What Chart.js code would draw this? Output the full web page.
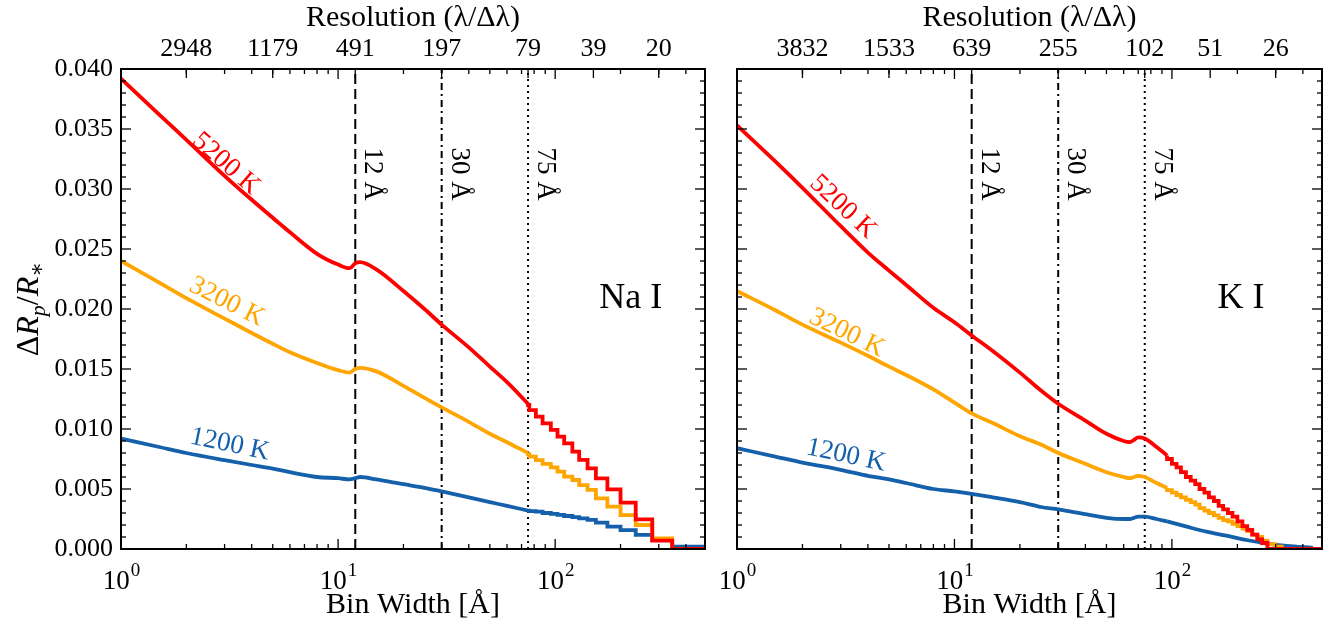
<!DOCTYPE html>
<html>
<head>
<meta charset="utf-8">
<script src="https://cdn.jsdelivr.net/npm/chart.js@4.4.0/dist/chart.umd.min.js"></script>
<style>
html, body { margin: 0; padding: 0; background: #fff; }
#left { position: absolute; left: 0; top: 0; width: 720px; height: 624px; }
#right { position: absolute; left: 720px; top: 0; width: 610px; height: 624px; }
</style>
</head>
<body>
<div id="left"><canvas id="naChart"></canvas></div>
<div id="right"><canvas id="kChart"></canvas></div>
<script>
const FONT = '"Liberation Serif", "DejaVu Serif", serif';
const RED = '#ff0000', ORANGE = '#ffa500', BLUE = '#1560ab';

const xMin = 1, xMax = 490;
const xMajor = [1, 10, 100];
const xMajorExp = ['0', '1', '2'];
const xMinor = [2, 3, 4, 5, 6, 7, 8, 9, 20, 30, 40, 50, 60, 70, 80, 90, 200, 300, 400];
const yMajor = [0, 0.005, 0.01, 0.015, 0.02, 0.025, 0.03, 0.035, 0.04];

// resolution axis on top
const resTicks = [2, 5, 12, 30, 75, 150, 300];
const naResLabels = ['2948', '1179', '491', '197', '79', '39', '20'];
const kResLabels = ['3832', '1533', '639', '255', '102', '51', '26'];

// vertical bin width markers
const binMarks = [12, 30, 75];
const binMarkLabels = ['12 Å', '30 Å', '75 Å'];

// Na I panel
const naX = [1, 1.5, 2, 3, 4, 5, 6, 8, 10, 11.3, 12, 12.6, 15, 20, 25, 30, 40, 50, 60, 75];
const na5200 = [0.0392, 0.0362, 0.0341, 0.0311, 0.0291, 0.0276, 0.0264, 0.0246, 0.0237, 0.0234, 0.0238, 0.0239, 0.0233, 0.0215, 0.0200, 0.0187, 0.0168, 0.0152, 0.0139, 0.0121];
const na3200 = [0.0240, 0.0222, 0.0209, 0.0192, 0.0180, 0.0171, 0.0164, 0.0155, 0.0149, 0.0147, 0.0150, 0.0151, 0.0148, 0.0136, 0.0126, 0.0118, 0.0106, 0.0096, 0.0089, 0.0080];
const na1200 = [0.0092, 0.0085, 0.0080, 0.0074, 0.0070, 0.0067, 0.0064, 0.0060, 0.0059, 0.0058, 0.0059, 0.0060, 0.0058, 0.0054, 0.0051, 0.0048, 0.0043, 0.0039, 0.0036, 0.0032];
const naTailX = [75, 76, 81.5, 87.5, 95.5, 102.5, 110, 120, 129, 141, 154, 174, 200, 235, 280, 346, 468, 490];
const na5200Tail = [0.0121, 0.0120, 0.01158, 0.01103, 0.01047, 0.00992, 0.00936, 0.00881, 0.00811, 0.00742, 0.00672, 0.00589, 0.00497, 0.00386, 0.00247, 0.00069, 0, 0];
const na3200Tail = [0.0080, 0.0079, 0.0077, 0.0074, 0.0071, 0.0068, 0.00644, 0.00603, 0.00575, 0.00533, 0.00492, 0.00422, 0.00353, 0.00283, 0.0020, 0.00089, 0, 0];
const na1200Tail = [0.0032, 0.0032, 0.00316, 0.00311, 0.0030, 0.00292, 0.00284, 0.00275, 0.00265, 0.00256, 0.00242, 0.00219, 0.00186, 0.00158, 0.00117, 0.00075, 0.0002, 0.0002];

// K I panel
const kX = [1, 1.5, 2, 3, 4, 5, 6, 8, 10, 12, 15, 20, 25, 30, 40, 50, 60, 64, 67, 70, 75, 85, 95];
const k5200 = [0.0353, 0.0323, 0.0301, 0.0269, 0.0247, 0.0232, 0.0220, 0.0201, 0.0189, 0.0178, 0.0165, 0.0147, 0.0132, 0.0121, 0.0107, 0.0096, 0.0090, 0.0089, 0.0091, 0.0093, 0.0092, 0.0085, 0.0078];
const k3200 = [0.0215, 0.0199, 0.0187, 0.0172, 0.0161, 0.0152, 0.0145, 0.0133, 0.0122, 0.0113, 0.0105, 0.0094, 0.0087, 0.0080, 0.0071, 0.0064, 0.0060, 0.0059, 0.0060, 0.0061, 0.0060, 0.0055, 0.0051];
const k1200 = [0.0084, 0.0077, 0.0072, 0.0066, 0.0061, 0.0058, 0.0055, 0.0050, 0.0048, 0.0046, 0.0043, 0.0039, 0.0035, 0.0033, 0.0029, 0.0026, 0.0025, 0.0025, 0.0026, 0.0027, 0.0027, 0.0025, 0.0023];
const k5200TailX = [95, 100, 105, 110, 116, 122, 128, 134, 141, 148, 156, 164, 172, 181, 190, 200, 211, 222, 234, 247, 260, 275, 298, 490];
const k5200Tail = [0.0078, 0.0075, 0.0071, 0.0068, 0.0064, 0.0060, 0.0057, 0.0054, 0.0050, 0.0047, 0.0043, 0.0040, 0.0036, 0.0033, 0.0030, 0.0027, 0.0023, 0.0019, 0.0016, 0.0012, 0.0008, 0.0005, 0, 0];
const k3200TailX = [95, 100, 105, 110, 116, 122, 128, 134, 141, 148, 156, 164, 172, 181, 190, 200, 211, 222, 234, 247, 260, 275, 298, 320, 337, 490];
const k3200Tail = [0.0051, 0.0049, 0.0047, 0.0045, 0.0043, 0.0041, 0.0039, 0.0037, 0.0034, 0.0032, 0.0030, 0.0028, 0.0026, 0.0024, 0.0023, 0.0021, 0.0019, 0.0017, 0.0015, 0.0012, 0.0010, 0.0007, 0.0004, 0.0002, 0, 0];
const k1200TailX = [95, 117, 144, 178, 220, 270, 337, 445];
const k1200Tail = [0.0023, 0.00186, 0.00144, 0.00111, 0.00075, 0.00047, 0.00025, 0.0001];

function pts(xs, ys) {
    return xs.map((x, i) => ({x: x, y: ys[i]}));
}

function curve(xs, ys, color, stepped) {
    return {
        data: pts(xs, ys),
        showLine: true,
        borderColor: color,
        borderWidth: 3.8,
        pointRadius: 0,
        fill: false,
        stepped: stepped ? 'after' : false,
        cubicInterpolationMode: stepped ? 'default' : 'monotone'
    };
}

function vline(v, dash) {
    return {
        data: [{x: v, y: 0}, {x: v, y: 0.04}],
        showLine: true,
        borderColor: '#000',
        borderWidth: 2,
        borderDash: dash,
        pointRadius: 0
    };
}

function drawRotated(ctx, text, x, y, deg, font, color) {
    ctx.save();
    ctx.translate(x, y);
    ctx.rotate(deg * Math.PI / 180);
    ctx.font = font;
    ctx.fillStyle = color;
    ctx.textAlign = 'center';
    ctx.textBaseline = 'middle';
    ctx.fillText(text, 0, 0);
    ctx.restore();
}

function drawYTitle(ctx, cx, cy) {
    // Delta R_p / R_*
    let parts = [
        ['Δ', '32px ' + FONT, 0],
        ['R', 'italic 32px ' + FONT, 0],
        ['p', 'italic 22px ' + FONT, 7],
        ['/', '32px ' + FONT, 0],
        ['R', 'italic 32px ' + FONT, 0],
        ['∗', '22px ' + FONT, 6]
    ];
    ctx.save();
    ctx.translate(cx, cy);
    ctx.rotate(-Math.PI / 2);
    ctx.fillStyle = '#000';
    ctx.textAlign = 'left';
    ctx.textBaseline = 'alphabetic';
    let total = 0;
    parts.forEach(p => { ctx.font = p[1]; total += ctx.measureText(p[0]).width; });
    let x = -total / 2;
    parts.forEach(p => {
        ctx.font = p[1];
        ctx.fillText(p[0], x, 10 + p[2]);
        x += ctx.measureText(p[0]).width;
    });
    ctx.restore();
}

// ticks inside the frame, frame, and all in-plot texts
const decor = {
    id: 'decor',
    afterDraw(chart, args, o) {
        const ctx = chart.ctx;
        const a = chart.chartArea;
        const xs = chart.scales.x, ys = chart.scales.y;
        ctx.save();
        ctx.strokeStyle = '#000';
        ctx.lineWidth = 1.3;
        const seg = (x1, y1, x2, y2) => { ctx.beginPath(); ctx.moveTo(x1, y1); ctx.lineTo(x2, y2); ctx.stroke(); };

        xMajor.concat(xMinor).forEach(v => {
            if (v > xMax) return;
            const px = xs.getPixelForValue(v);
            const len = xMajor.includes(v) ? 10 : 5;
            seg(px, a.bottom, px, a.bottom - len);
            seg(px, a.top, px, a.top + len);
        });
        resTicks.forEach(v => {
            const px = xs.getPixelForValue(v);
            seg(px, a.top, px, a.top + 9);
        });
        for (let i = 0; i <= 40; i++) {
            const py = ys.getPixelForValue(i / 1000);
            const len = i % 5 === 0 ? 10 : 5;
            seg(a.left, py, a.left + len, py);
            seg(a.right, py, a.right - len, py);
        }
        ctx.lineWidth = 2;
        ctx.strokeRect(a.left, a.top, a.right - a.left, a.bottom - a.top);

        ctx.fillStyle = '#000';
        // top tick labels (resolution)
        ctx.font = '26px ' + FONT;
        ctx.textAlign = 'center';
        ctx.textBaseline = 'middle';
        resTicks.forEach((v, i) => {
            ctx.fillText(o.resLabels[i], xs.getPixelForValue(v), a.top - 20);
        });

        // bottom tick labels 10^n
        ctx.textBaseline = 'alphabetic';
        xMajor.forEach((v, i) => {
            const px = xs.getPixelForValue(v);
            ctx.font = '27px ' + FONT;
            const w1 = ctx.measureText('10').width;
            ctx.font = '19px ' + FONT;
            const w2 = ctx.measureText(xMajorExp[i]).width;
            const x0 = px - (w1 + w2) / 2;
            ctx.font = '27px ' + FONT;
            ctx.textAlign = 'left';
            ctx.fillText('10', x0, a.bottom + 40);
            ctx.font = '19px ' + FONT;
            ctx.fillText(xMajorExp[i], x0 + w1 + 1, a.bottom + 27);
        });

        // marker labels
        binMarks.forEach((v, i) => {
            const px = xs.getPixelForValue(v);
            drawRotated(ctx, binMarkLabels[i], px + 17, a.top + 105, 90, '27px ' + FONT, '#000');
        });

        // curve labels
        o.curveLabels.forEach(l => {
            drawRotated(ctx, l.text, xs.getPixelForValue(l.x), ys.getPixelForValue(l.y), l.angle, '27px ' + FONT, l.color);
        });

        // panel label
        drawRotated(ctx, o.panel, xs.getPixelForValue(o.panelX), ys.getPixelForValue(o.panelY), 0, '36px ' + FONT, '#000');

        if (o.yTitle) {
            drawYTitle(ctx, 28, (a.top + a.bottom) / 2);
        }
        ctx.restore();
    }
};

function makePanel(canvasId, cfg) {
    return new Chart(document.getElementById(canvasId), {
        type: 'scatter',
        data: {datasets: cfg.datasets},
        options: {
            responsive: true,
            maintainAspectRatio: false,
            animation: false,
            layout: {padding: {left: 0, right: cfg.padRight, top: 0, bottom: 0}},
            plugins: {
                legend: {display: false},
                tooltip: {enabled: false},
                decor: cfg.decor
            },
            scales: {
                x: {
                    type: 'logarithmic', position: 'bottom', min: xMin, max: xMax,
                    grid: {display: false, drawTicks: false}, border: {display: false},
                    ticks: {display: false},
                    afterFit: s => { s.height = 75; },
                    title: {display: true, text: 'Bin Width [Å]', color: '#000',
                        font: {family: FONT, size: 30}, padding: {top: 0, bottom: 1}}
                },
                x2: {
                    type: 'logarithmic', position: 'top', min: xMin, max: xMax,
                    grid: {display: false, drawTicks: false}, border: {display: false},
                    ticks: {display: false},
                    afterFit: s => { s.height = 69; },
                    title: {display: true, text: 'Resolution (λ/Δλ)', color: '#000',
                        font: {family: FONT, size: 30}, padding: {top: 0, bottom: 0}}
                },
                y: {
                    min: 0, max: 0.04,
                    grid: {display: false, drawTicks: false}, border: {display: false},
                    afterBuildTicks: s => { s.ticks = yMajor.map(v => ({value: v})); },
                    ticks: {display: cfg.yLabels, padding: 8, color: '#000',
                        font: {family: FONT, size: 26},
                        callback: v => v.toFixed(3)},
                    afterFit: s => { s.width = cfg.yWidth; }
                }
            }
        },
        plugins: [decor]
    });
}

makePanel('naChart', {
    padRight: 15,
    yWidth: 121,
    yLabels: true,
    datasets: [
        curve(naX, na5200, RED, false),
        curve(naTailX, na5200Tail, RED, true),
        curve(naX, na3200, ORANGE, false),
        curve(naTailX, na3200Tail, ORANGE, true),
        curve(naX, na1200, BLUE, false),
        curve(naTailX, na1200Tail, BLUE, true),
        vline(binMarks[0], [10, 5]),
        vline(binMarks[1], [7, 4, 2, 4]),
        vline(binMarks[2], [2, 4])
    ],
    decor: {
        yTitle: true,
        resLabels: naResLabels,
        panel: 'Na I', panelX: 223, panelY: 0.0209,
        curveLabels: [
            {text: '5200 K', x: 3.04, y: 0.0321, angle: 41, color: RED},
            {text: '3200 K', x: 3.07, y: 0.0206, angle: 27, color: ORANGE},
            {text: '1200 K', x: 3.17, y: 0.0087, angle: 12, color: BLUE}
        ]
    }
});

makePanel('kChart', {
    padRight: 8,
    yWidth: 17,
    yLabels: false,
    datasets: [
        curve(kX, k5200, RED, false),
        curve(k5200TailX, k5200Tail, RED, true),
        curve(kX, k3200, ORANGE, false),
        curve(k3200TailX, k3200Tail, ORANGE, true),
        curve(kX, k1200, BLUE, false),
        curve(k1200TailX, k1200Tail, BLUE, false),
        vline(binMarks[0], [10, 5]),
        vline(binMarks[1], [7, 4, 2, 4]),
        vline(binMarks[2], [2, 4])
    ],
    decor: {
        yTitle: false,
        resLabels: kResLabels,
        panel: 'K I', panelX: 208, panelY: 0.0209,
        curveLabels: [
            {text: '5200 K', x: 3.07, y: 0.0285, angle: 43, color: RED},
            {text: '3200 K', x: 3.2, y: 0.018, angle: 26, color: ORANGE},
            {text: '1200 K', x: 3.17, y: 0.0078, angle: 12, color: BLUE}
        ]
    }
});
</script>
</body>
</html>
